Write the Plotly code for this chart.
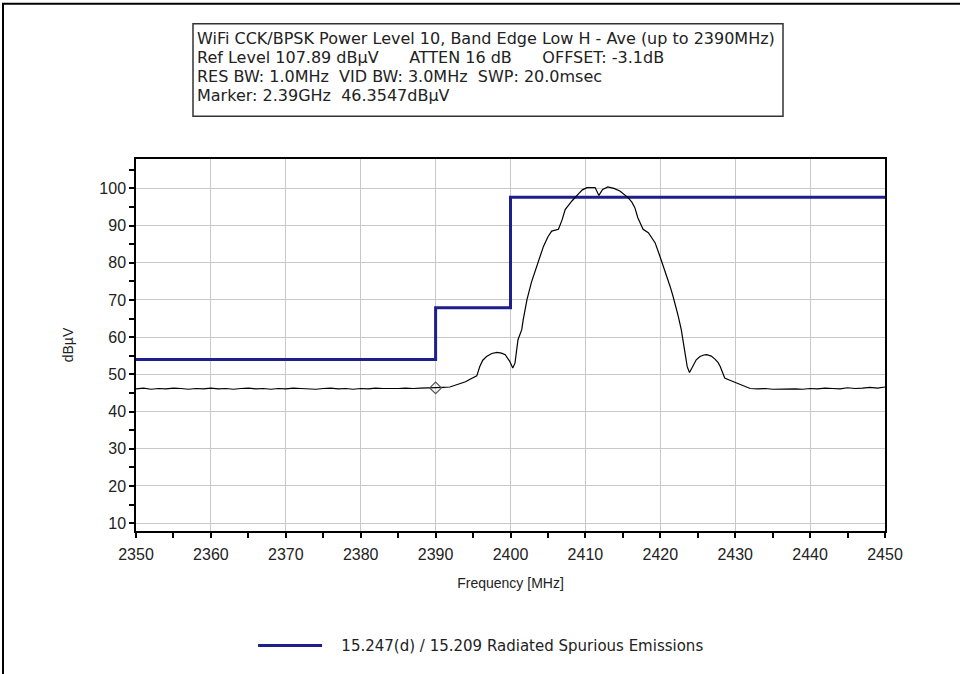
import plotly.graph_objects as go

# Measured trace (frequency in MHz, level in dBµV)
trace_freq = [
    2350, 2351, 2352, 2353, 2354, 2355, 2356, 2357, 2358, 2359,
    2360, 2361, 2362, 2363, 2364, 2365, 2366, 2367, 2368, 2369,
    2370, 2371, 2372, 2373, 2374, 2375, 2376, 2377, 2378, 2379,
    2380, 2381, 2382, 2383, 2384, 2385, 2386, 2387, 2388, 2389, 2390,
    2391, 2391.9, 2392.6, 2393.3, 2394, 2394.6, 2395.2, 2395.5, 2395.9, 2396.3,
    2396.8, 2397.5, 2398.2, 2398.8, 2399.3, 2399.7, 2399.9, 2400.3, 2400.6, 2401.0,
    2401.5, 2401.7, 2402.2, 2402.8, 2403.5, 2404.0, 2404.4, 2405.0, 2405.5, 2406.4,
    2406.9, 2407.3, 2407.8, 2408.2, 2409.1, 2409.6, 2410.2, 2410.8, 2411.3, 2411.8,
    2412.3, 2413.0, 2413.8, 2414.6, 2415.2, 2415.7, 2416.2, 2416.6, 2417.0, 2417.4,
    2417.7, 2418.4, 2419.3, 2419.9, 2420.4, 2420.8, 2421.3, 2421.7, 2422.1, 2422.4,
    2422.8, 2423.1, 2423.3, 2423.6, 2423.9, 2424.4, 2424.8, 2425.3, 2425.8, 2426.2,
    2426.8, 2427.3, 2427.7, 2428.0, 2428.3, 2428.6, 2429.2, 2429.7, 2430.2, 2430.6,
    2431.2, 2431.8, 2432,
    2433, 2434, 2435, 2436, 2437, 2438, 2439, 2440, 2441, 2442,
    2443, 2444, 2445, 2446, 2447, 2448, 2449, 2450,
]
trace_level = [
    46.1, 46.3, 46.0, 46.2, 46.1, 46.3, 46.2, 46.0, 46.2, 46.1,
    46.3, 46.1, 46.2, 46.0, 46.2, 46.3, 46.1, 46.2, 46.0, 46.2,
    46.1, 46.3, 46.2, 46.1, 46.0, 46.2, 46.3, 46.1, 46.2, 46.0,
    46.2, 46.1, 46.3, 46.2, 46.1, 46.2, 46.3, 46.2, 46.3, 46.3, 46.35,
    46.5, 46.6, 47.0, 47.4, 48.0, 48.7, 49.2, 49.6, 52.1, 53.8,
    54.8, 55.6, 55.9, 55.7, 55.3, 54.3, 53.5, 51.7, 53.0, 59.3,
    62.0, 64.7, 70.1, 74.8, 79.1, 82.0, 84.4, 87.0, 88.5, 89.0,
    91.6, 94.3, 95.7, 96.6, 98.6, 99.6, 100.2, 100.3, 100.2, 98.1,
    99.7, 100.4, 100.0, 99.3, 98.4, 97.5, 96.3, 94.8, 92.1, 90.4,
    89.0, 88.1, 85.4, 82.0, 79.2, 76.4, 73.7, 71.0, 68.3, 65.6,
    62.0, 58.0, 54.8, 52.0, 50.5, 52.6, 53.9, 54.8, 55.2, 55.3,
    54.9, 54.1, 53.2, 52.1, 50.5, 49.0, 48.5, 48.1, 47.6, 47.2,
    46.7, 46.3, 46.2,
    46.1, 46.2, 46.0, 46.1, 46.2, 46.1, 46.0, 46.2, 46.1, 46.3,
    46.2, 46.1, 46.4, 46.2, 46.3, 46.5, 46.3, 46.6,
]

# Limit line (step)
limit_freq = [2350, 2390, 2400, 2450]
limit_level = [54.0, 67.9, 97.6, 97.6]
limit_name = "15.247(d) / 15.209 Radiated Spurious Emissions"

# Marker
marker_freq = [2390]
marker_level = [46.3547]

x_ticks = [2350, 2360, 2370, 2380, 2390, 2400, 2410, 2420, 2430, 2440, 2450]
y_ticks = [10, 20, 30, 40, 50, 60, 70, 80, 90, 100]

SP = "&nbsp;"
header_lines = [
    "WiFi CCK/BPSK Power Level 10, Band Edge Low H - Ave (up to 2390MHz)",
    "Ref Level 107.89 dBµV" + SP * 6 + "ATTEN 16 dB" + SP * 6 + "OFFSET: -3.1dB",
    "RES BW: 1.0MHz" + SP * 2 + "VID BW: 3.0MHz" + SP * 2 + "SWP: 20.0msec",
    "Marker: 2.39GHz" + SP * 2 + "46.3547dBµV",
]
header_y = [38, 57, 76, 95]  # line centres (px)

FONT = "Liberation Sans, Arial, sans-serif"
HFONT = "DejaVu Sans, sans-serif"
TXT = "#222222"

fig = go.Figure()
fig.add_trace(go.Scatter(
    x=limit_freq, y=limit_level, mode="lines", line_shape="hv",
    line=dict(color="#1e1e8c", width=3),
    name=SP * 3 + limit_name, showlegend=True,
))
fig.add_trace(go.Scatter(
    x=trace_freq, y=trace_level, mode="lines",
    line=dict(color="black", width=1.2), showlegend=False,
))
fig.add_trace(go.Scatter(
    x=marker_freq, y=marker_level, mode="markers",
    marker=dict(symbol="diamond-open", size=9, color="#555555", line=dict(width=1.2)),
    showlegend=False,
))

PL, PR, PT, PB = 136, 885, 159, 533  # plot area in page px
PW, PH = PR - PL, PB - PT


def px(x):
    return (x - PL) / PW


def py(y):
    return (PB - y) / PH


fig.update_layout(
    width=960, height=674,
    paper_bgcolor="white", plot_bgcolor="white",
    margin=dict(l=PL, r=960 - PR, t=PT, b=674 - PB),
    font=dict(family=FONT, size=14, color=TXT),
    showlegend=True,
    legend=dict(
        orientation="h", x=0.1563, xanchor="left", y=py(665), yanchor="bottom",
        font=dict(family=HFONT, size=15, color=TXT),
        itemwidth=64, bgcolor="rgba(0,0,0,0)",
    ),
    xaxis=dict(
        range=[2350, 2450], tickvals=x_ticks, ticktext=[str(v) for v in x_ticks],
        showgrid=True, gridcolor="#c8c8c8", gridwidth=1,
        showline=True, linecolor="black", linewidth=1.5, mirror=True,
        ticks="outside", ticklen=5, tickcolor="black", tickwidth=1.5,
        ticklabelstandoff=3,
        minor=dict(dtick=5, tick0=2355, ticks="outside", ticklen=5, tickcolor="black", tickwidth=1.5, showgrid=False),
        tickfont=dict(family=FONT, size=16, color=TXT),
        title=dict(text="Frequency [MHz]", font=dict(family=FONT, size=14, color=TXT), standoff=16),
        zeroline=False,
    ),
    yaxis=dict(
        range=[7.89, 107.89], tickvals=y_ticks, ticktext=[str(v) for v in y_ticks],
        showgrid=True, gridcolor="#c8c8c8", gridwidth=1,
        showline=True, linecolor="black", linewidth=1.5, mirror=True,
        ticks="outside", ticklen=5, tickcolor="black", tickwidth=1.5,
        minor=dict(dtick=5, tick0=5, ticks="outside", ticklen=5, tickcolor="black", tickwidth=1.5, showgrid=False),
        tickfont=dict(family=FONT, size=16, color=TXT),
        title=dict(text="dBµV", font=dict(family=FONT, size=14, color=TXT), standoff=22),
        zeroline=False,
    ),
)

# header box
fig.add_shape(type="rect", xref="paper", yref="paper",
              x0=px(193), x1=px(783), y0=py(116), y1=py(23),
              line=dict(color="#333333", width=1.5), fillcolor="white", layer="above")
for line_text, yc in zip(header_lines, header_y):
    fig.add_annotation(
        xref="paper", yref="paper", x=px(195), y=py(yc),
        xanchor="left", yanchor="middle", align="left", showarrow=False,
        text=line_text,
        font=dict(family=HFONT, size=16, color=TXT),
    )

# outer frame (top and left edges visible)
fig.add_shape(type="rect", xref="paper", yref="paper",
              x0=px(3), x1=px(1000), y0=py(720), y1=py(3),
              line=dict(color="black", width=2), fillcolor="rgba(0,0,0,0)", layer="above")

fig.write_html(
    "out.html",
    config={"displayModeBar": False},
    post_script="document.body.style.margin='0';document.body.style.overflow='hidden';",
)
